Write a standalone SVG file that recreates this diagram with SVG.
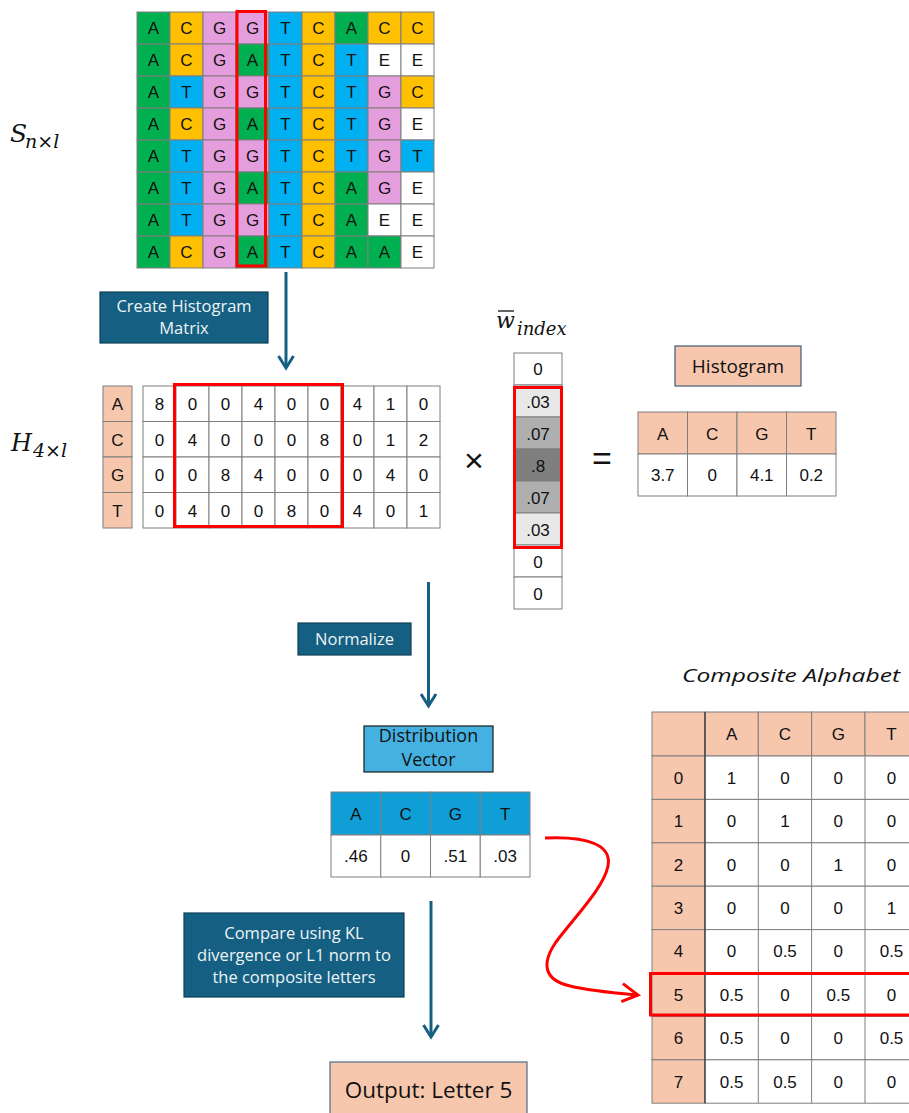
<svg xmlns="http://www.w3.org/2000/svg" width="909" height="1113" viewBox="0 0 909 1113">
<style>
.cell{stroke:#7f7f7f;stroke-width:1}
.a{fill:#00B050}.c{fill:#FFC000}.g{fill:#E59EDD}.t{fill:#00B0F0}.e{fill:#fff}.w{fill:#fff}
.pe{fill:#F6C6AD}.db{fill:#0F9ED5}
.g1{fill:#E8E8E8}.g2{fill:#AFAFAF}.g3{fill:#7F7F7F}
.tx{font-family:"Liberation Sans",Arial,sans-serif;font-size:17px;fill:#111;text-anchor:middle}
.bt{font-family:"Open Sans","Noto Sans",sans-serif;font-size:16.5px;fill:#EEF3F6;text-anchor:middle}
.lt{font-family:"Open Sans","Noto Sans",sans-serif;fill:#111;text-anchor:middle}
.math{font-family:"DejaVu Serif","Liberation Serif",serif;font-style:italic;fill:#111}
.red{fill:none;stroke:#FF0000;stroke-width:3}
.arr{fill:none;stroke:#156082;stroke-width:3}
.dark{fill:#156082;stroke:#0E3F58;stroke-width:1.2}
</style>
<defs>
<marker id="ah" markerWidth="18" markerHeight="18" refX="14" refY="9" orient="auto" markerUnits="userSpaceOnUse">
<path d="M2,1.5 L14,9 L2,16.5" fill="none" stroke="#156082" stroke-width="3"/>
</marker>
<marker id="rh" markerWidth="20" markerHeight="26" refX="17" refY="13" orient="auto" markerUnits="userSpaceOnUse">
<path d="M1,3 L17,13 L1,21" fill="none" stroke="#FF0000" stroke-width="3"/>
</marker>
</defs>
<rect width="909" height="1113" fill="#fff"/>

<g id="S-label">
<text class="math" x="10" y="142" font-size="25">S</text>
<text class="math" x="25" y="148" font-size="19">n×l</text>
</g>

<g id="sequence-grid">
<g>
<rect class="cell a" x="137" y="12" width="33" height="32"/><rect class="cell c" x="170" y="12" width="33" height="32"/><rect class="cell g" x="203" y="12" width="33" height="32"/><rect class="cell g" x="236" y="12" width="33" height="32"/><rect class="cell t" x="269" y="12" width="33" height="32"/><rect class="cell c" x="302" y="12" width="33" height="32"/><rect class="cell a" x="335" y="12" width="33" height="32"/><rect class="cell c" x="368" y="12" width="33" height="32"/><rect class="cell c" x="401" y="12" width="33" height="32"/>
<rect class="cell a" x="137" y="44" width="33" height="32"/><rect class="cell c" x="170" y="44" width="33" height="32"/><rect class="cell g" x="203" y="44" width="33" height="32"/><rect class="cell a" x="236" y="44" width="33" height="32"/><rect class="cell t" x="269" y="44" width="33" height="32"/><rect class="cell c" x="302" y="44" width="33" height="32"/><rect class="cell t" x="335" y="44" width="33" height="32"/><rect class="cell e" x="368" y="44" width="33" height="32"/><rect class="cell e" x="401" y="44" width="33" height="32"/>
<rect class="cell a" x="137" y="76" width="33" height="32"/><rect class="cell t" x="170" y="76" width="33" height="32"/><rect class="cell g" x="203" y="76" width="33" height="32"/><rect class="cell g" x="236" y="76" width="33" height="32"/><rect class="cell t" x="269" y="76" width="33" height="32"/><rect class="cell c" x="302" y="76" width="33" height="32"/><rect class="cell t" x="335" y="76" width="33" height="32"/><rect class="cell g" x="368" y="76" width="33" height="32"/><rect class="cell c" x="401" y="76" width="33" height="32"/>
<rect class="cell a" x="137" y="108" width="33" height="32"/><rect class="cell c" x="170" y="108" width="33" height="32"/><rect class="cell g" x="203" y="108" width="33" height="32"/><rect class="cell a" x="236" y="108" width="33" height="32"/><rect class="cell t" x="269" y="108" width="33" height="32"/><rect class="cell c" x="302" y="108" width="33" height="32"/><rect class="cell t" x="335" y="108" width="33" height="32"/><rect class="cell g" x="368" y="108" width="33" height="32"/><rect class="cell e" x="401" y="108" width="33" height="32"/>
<rect class="cell a" x="137" y="140" width="33" height="32"/><rect class="cell t" x="170" y="140" width="33" height="32"/><rect class="cell g" x="203" y="140" width="33" height="32"/><rect class="cell g" x="236" y="140" width="33" height="32"/><rect class="cell t" x="269" y="140" width="33" height="32"/><rect class="cell c" x="302" y="140" width="33" height="32"/><rect class="cell t" x="335" y="140" width="33" height="32"/><rect class="cell g" x="368" y="140" width="33" height="32"/><rect class="cell t" x="401" y="140" width="33" height="32"/>
<rect class="cell a" x="137" y="172" width="33" height="32"/><rect class="cell t" x="170" y="172" width="33" height="32"/><rect class="cell g" x="203" y="172" width="33" height="32"/><rect class="cell a" x="236" y="172" width="33" height="32"/><rect class="cell t" x="269" y="172" width="33" height="32"/><rect class="cell c" x="302" y="172" width="33" height="32"/><rect class="cell a" x="335" y="172" width="33" height="32"/><rect class="cell g" x="368" y="172" width="33" height="32"/><rect class="cell e" x="401" y="172" width="33" height="32"/>
<rect class="cell a" x="137" y="204" width="33" height="32"/><rect class="cell t" x="170" y="204" width="33" height="32"/><rect class="cell g" x="203" y="204" width="33" height="32"/><rect class="cell g" x="236" y="204" width="33" height="32"/><rect class="cell t" x="269" y="204" width="33" height="32"/><rect class="cell c" x="302" y="204" width="33" height="32"/><rect class="cell a" x="335" y="204" width="33" height="32"/><rect class="cell e" x="368" y="204" width="33" height="32"/><rect class="cell e" x="401" y="204" width="33" height="32"/>
<rect class="cell a" x="137" y="236" width="33" height="32"/><rect class="cell c" x="170" y="236" width="33" height="32"/><rect class="cell g" x="203" y="236" width="33" height="32"/><rect class="cell a" x="236" y="236" width="33" height="32"/><rect class="cell t" x="269" y="236" width="33" height="32"/><rect class="cell c" x="302" y="236" width="33" height="32"/><rect class="cell a" x="335" y="236" width="33" height="32"/><rect class="cell a" x="368" y="236" width="33" height="32"/><rect class="cell e" x="401" y="236" width="33" height="32"/>
</g>
<g class="tx">
<text x="153.5" y="34">A</text><text x="186.5" y="34">C</text><text x="219.5" y="34">G</text><text x="252.5" y="34">G</text><text x="285.5" y="34">T</text><text x="318.5" y="34">C</text><text x="351.5" y="34">A</text><text x="384.5" y="34">C</text><text x="417.5" y="34">C</text>
<text x="153.5" y="66">A</text><text x="186.5" y="66">C</text><text x="219.5" y="66">G</text><text x="252.5" y="66">A</text><text x="285.5" y="66">T</text><text x="318.5" y="66">C</text><text x="351.5" y="66">T</text><text x="384.5" y="66">E</text><text x="417.5" y="66">E</text>
<text x="153.5" y="98">A</text><text x="186.5" y="98">T</text><text x="219.5" y="98">G</text><text x="252.5" y="98">G</text><text x="285.5" y="98">T</text><text x="318.5" y="98">C</text><text x="351.5" y="98">T</text><text x="384.5" y="98">G</text><text x="417.5" y="98">C</text>
<text x="153.5" y="130">A</text><text x="186.5" y="130">C</text><text x="219.5" y="130">G</text><text x="252.5" y="130">A</text><text x="285.5" y="130">T</text><text x="318.5" y="130">C</text><text x="351.5" y="130">T</text><text x="384.5" y="130">G</text><text x="417.5" y="130">E</text>
<text x="153.5" y="162">A</text><text x="186.5" y="162">T</text><text x="219.5" y="162">G</text><text x="252.5" y="162">G</text><text x="285.5" y="162">T</text><text x="318.5" y="162">C</text><text x="351.5" y="162">T</text><text x="384.5" y="162">G</text><text x="417.5" y="162">T</text>
<text x="153.5" y="194">A</text><text x="186.5" y="194">T</text><text x="219.5" y="194">G</text><text x="252.5" y="194">A</text><text x="285.5" y="194">T</text><text x="318.5" y="194">C</text><text x="351.5" y="194">A</text><text x="384.5" y="194">G</text><text x="417.5" y="194">E</text>
<text x="153.5" y="226">A</text><text x="186.5" y="226">T</text><text x="219.5" y="226">G</text><text x="252.5" y="226">G</text><text x="285.5" y="226">T</text><text x="318.5" y="226">C</text><text x="351.5" y="226">A</text><text x="384.5" y="226">E</text><text x="417.5" y="226">E</text>
<text x="153.5" y="258">A</text><text x="186.5" y="258">C</text><text x="219.5" y="258">G</text><text x="252.5" y="258">A</text><text x="285.5" y="258">T</text><text x="318.5" y="258">C</text><text x="351.5" y="258">A</text><text x="384.5" y="258">A</text><text x="417.5" y="258">E</text>
</g>
<rect class="red" x="237" y="11.5" width="28.5" height="254.5"/>
</g>

<g id="create-histogram-box">
<rect class="dark" x="100" y="292" width="168" height="51"/>
<text class="bt" x="184" y="312">Create Histogram</text>
<text class="bt" x="184" y="334">Matrix</text>
</g>

<g id="H-label">
<text class="math" x="11" y="451" font-size="24">H</text>
<text class="math" x="33" y="457" font-size="19">4×l</text>
</g>

<g id="histogram-matrix">
<rect class="cell pe" x="103" y="386" width="29" height="35.5"/><rect class="cell pe" x="103" y="421.5" width="29" height="35.5"/><rect class="cell pe" x="103" y="457" width="29" height="35.5"/><rect class="cell pe" x="103" y="492.5" width="29" height="35.5"/>
<g class="tx"><text x="117.5" y="410">A</text><text x="117.5" y="445.5">C</text><text x="117.5" y="481">G</text><text x="117.5" y="516.5">T</text></g>
<g>
<rect class="cell w" x="143" y="386" width="33" height="35.5"/><rect class="cell w" x="176" y="386" width="33" height="35.5"/><rect class="cell w" x="209" y="386" width="33" height="35.5"/><rect class="cell w" x="242" y="386" width="33" height="35.5"/><rect class="cell w" x="275" y="386" width="33" height="35.5"/><rect class="cell w" x="308" y="386" width="33" height="35.5"/><rect class="cell w" x="341" y="386" width="33" height="35.5"/><rect class="cell w" x="374" y="386" width="33" height="35.5"/><rect class="cell w" x="407" y="386" width="33" height="35.5"/>
<rect class="cell w" x="143" y="421.5" width="33" height="35.5"/><rect class="cell w" x="176" y="421.5" width="33" height="35.5"/><rect class="cell w" x="209" y="421.5" width="33" height="35.5"/><rect class="cell w" x="242" y="421.5" width="33" height="35.5"/><rect class="cell w" x="275" y="421.5" width="33" height="35.5"/><rect class="cell w" x="308" y="421.5" width="33" height="35.5"/><rect class="cell w" x="341" y="421.5" width="33" height="35.5"/><rect class="cell w" x="374" y="421.5" width="33" height="35.5"/><rect class="cell w" x="407" y="421.5" width="33" height="35.5"/>
<rect class="cell w" x="143" y="457" width="33" height="35.5"/><rect class="cell w" x="176" y="457" width="33" height="35.5"/><rect class="cell w" x="209" y="457" width="33" height="35.5"/><rect class="cell w" x="242" y="457" width="33" height="35.5"/><rect class="cell w" x="275" y="457" width="33" height="35.5"/><rect class="cell w" x="308" y="457" width="33" height="35.5"/><rect class="cell w" x="341" y="457" width="33" height="35.5"/><rect class="cell w" x="374" y="457" width="33" height="35.5"/><rect class="cell w" x="407" y="457" width="33" height="35.5"/>
<rect class="cell w" x="143" y="492.5" width="33" height="35.5"/><rect class="cell w" x="176" y="492.5" width="33" height="35.5"/><rect class="cell w" x="209" y="492.5" width="33" height="35.5"/><rect class="cell w" x="242" y="492.5" width="33" height="35.5"/><rect class="cell w" x="275" y="492.5" width="33" height="35.5"/><rect class="cell w" x="308" y="492.5" width="33" height="35.5"/><rect class="cell w" x="341" y="492.5" width="33" height="35.5"/><rect class="cell w" x="374" y="492.5" width="33" height="35.5"/><rect class="cell w" x="407" y="492.5" width="33" height="35.5"/>
</g>
<g class="tx">
<text x="159.5" y="410">8</text><text x="192.5" y="410">0</text><text x="225.5" y="410">0</text><text x="258.5" y="410">4</text><text x="291.5" y="410">0</text><text x="324.5" y="410">0</text><text x="357.5" y="410">4</text><text x="390.5" y="410">1</text><text x="423.5" y="410">0</text>
<text x="159.5" y="445.5">0</text><text x="192.5" y="445.5">4</text><text x="225.5" y="445.5">0</text><text x="258.5" y="445.5">0</text><text x="291.5" y="445.5">0</text><text x="324.5" y="445.5">8</text><text x="357.5" y="445.5">0</text><text x="390.5" y="445.5">1</text><text x="423.5" y="445.5">2</text>
<text x="159.5" y="481">0</text><text x="192.5" y="481">0</text><text x="225.5" y="481">8</text><text x="258.5" y="481">4</text><text x="291.5" y="481">0</text><text x="324.5" y="481">0</text><text x="357.5" y="481">0</text><text x="390.5" y="481">4</text><text x="423.5" y="481">0</text>
<text x="159.5" y="516.5">0</text><text x="192.5" y="516.5">4</text><text x="225.5" y="516.5">0</text><text x="258.5" y="516.5">0</text><text x="291.5" y="516.5">8</text><text x="324.5" y="516.5">0</text><text x="357.5" y="516.5">4</text><text x="390.5" y="516.5">0</text><text x="423.5" y="516.5">1</text>
</g>
<rect class="red" x="174.5" y="384.5" width="168" height="142"/>
</g>

<g id="times-sign"><text x="474" y="472" font-family="Liberation Sans,Arial,sans-serif" font-size="34" fill="#111" text-anchor="middle">×</text></g>

<g id="w-label">
<text class="math" x="496" y="328" font-size="22">w</text>
<line x1="498" y1="311" x2="514" y2="311" stroke="#111" stroke-width="1.3"/>
<text class="math" x="517" y="335" font-size="18">index</text>
</g>

<g id="weight-vector">
<rect class="cell w" x="514" y="353" width="48" height="32"/>
<rect class="cell g1" x="514" y="385" width="48" height="32"/>
<rect class="cell g2" x="514" y="417" width="48" height="32"/>
<rect class="cell g3" x="514" y="449" width="48" height="32"/>
<rect class="cell g2" x="514" y="481" width="48" height="32"/>
<rect class="cell g1" x="514" y="513" width="48" height="32"/>
<rect class="cell w" x="514" y="545" width="48" height="32"/>
<rect class="cell w" x="514" y="577" width="48" height="32"/>
<g class="tx">
<text x="538" y="375">0</text><text x="538" y="408">.03</text><text x="538" y="440">.07</text><text x="538" y="472">.8</text><text x="538" y="504">.07</text><text x="538" y="536">.03</text><text x="538" y="568">0</text><text x="538" y="600">0</text>
</g>
<rect class="red" x="514.5" y="387.5" width="47" height="160"/>
</g>

<g id="equals-sign"><text x="602" y="470" font-family="Liberation Sans,Arial,sans-serif" font-size="34" fill="#111" text-anchor="middle">=</text></g>

<g id="histogram-label">
<rect x="675" y="346" width="126" height="40" fill="#F6C6AD" stroke="#3E5C78" stroke-width="1.2"/>
<text class="lt" x="738" y="373" font-size="19">Histogram</text>
</g>

<g id="histogram-table">
<rect class="cell pe" x="638" y="412" width="49.5" height="42"/><rect class="cell pe" x="687.5" y="412" width="49.5" height="42"/><rect class="cell pe" x="737" y="412" width="49.5" height="42"/><rect class="cell pe" x="786.5" y="412" width="49.5" height="42"/>
<rect class="cell w" x="638" y="454" width="49.5" height="42"/><rect class="cell w" x="687.5" y="454" width="49.5" height="42"/><rect class="cell w" x="737" y="454" width="49.5" height="42"/><rect class="cell w" x="786.5" y="454" width="49.5" height="42"/>
<g class="tx">
<text x="662.75" y="440">A</text><text x="712.25" y="440">C</text><text x="761.75" y="440">G</text><text x="811.25" y="440">T</text>
<text x="662.75" y="481">3.7</text><text x="712.25" y="481">0</text><text x="761.75" y="481">4.1</text><text x="811.25" y="481">0.2</text>
</g>
</g>

<g id="normalize-box">
<rect class="dark" x="298" y="623" width="113" height="32"/>
<text class="bt" x="354.5" y="645" font-size="17">Normalize</text>
</g>

<g id="distribution-label">
<rect x="364" y="726" width="129" height="46" fill="#45B1E1" stroke="#1a1a1a" stroke-width="1.2"/>
<text class="lt" x="428.5" y="742" font-size="18">Distribution</text>
<text class="lt" x="428.5" y="766" font-size="18">Vector</text>
</g>

<g id="distribution-table">
<rect class="cell db" x="331" y="792" width="49.75" height="43"/><rect class="cell db" x="380.75" y="792" width="49.75" height="43"/><rect class="cell db" x="430.5" y="792" width="49.75" height="43"/><rect class="cell db" x="480.25" y="792" width="49.75" height="43"/>
<rect class="cell w" x="331" y="835" width="49.75" height="42"/><rect class="cell w" x="380.75" y="835" width="49.75" height="42"/><rect class="cell w" x="430.5" y="835" width="49.75" height="42"/><rect class="cell w" x="480.25" y="835" width="49.75" height="42"/>
<g class="tx">
<text x="355.9" y="820">A</text><text x="405.6" y="820">C</text><text x="455.4" y="820">G</text><text x="505.1" y="820">T</text>
<text x="355.9" y="862">.46</text><text x="405.6" y="862">0</text><text x="455.4" y="862">.51</text><text x="505.1" y="862">.03</text>
</g>
</g>

<g id="compare-box">
<rect class="dark" x="184" y="913" width="220" height="84"/>
<text class="bt" x="294" y="939">Compare using KL</text>
<text class="bt" x="294" y="961">divergence or L1 norm to</text>
<text class="bt" x="294" y="983">the composite letters</text>
</g>

<g id="output-box">
<rect x="330" y="1062" width="197" height="60" fill="#F6C6AD" stroke="#4D6E8A" stroke-width="1.2"/>
<text class="lt" x="428.5" y="1098" font-size="22.5">Output: Letter 5</text>
</g>

<g id="composite-title">
<text x="682" y="682" font-family="Open Sans,Noto Sans,sans-serif" font-style="italic" font-size="19" fill="#111" textLength="218" lengthAdjust="spacingAndGlyphs">Composite Alphabet</text>
</g>

<g id="composite-table">
<g>
<rect class="cell pe" x="652" y="712" width="53" height="44"/><rect class="cell pe" x="705" y="712" width="53.3" height="44"/><rect class="cell pe" x="758.3" y="712" width="53.3" height="44"/><rect class="cell pe" x="811.6" y="712" width="53.4" height="44"/><rect class="cell pe" x="865" y="712" width="53" height="44"/>
<rect class="cell pe" x="652" y="756" width="53" height="43.4"/><rect class="cell pe" x="652" y="799.4" width="53" height="43.4"/><rect class="cell pe" x="652" y="842.8" width="53" height="43.4"/><rect class="cell pe" x="652" y="886.2" width="53" height="43.4"/><rect class="cell pe" x="652" y="929.6" width="53" height="43.4"/><rect class="cell pe" x="652" y="973" width="53" height="43.4"/><rect class="cell pe" x="652" y="1016.4" width="53" height="43.4"/><rect class="cell pe" x="652" y="1059.8" width="53" height="43.4"/>
<rect class="cell w" x="705" y="756" width="213" height="43.4"/><rect class="cell w" x="705" y="799.4" width="213" height="43.4"/><rect class="cell w" x="705" y="842.8" width="213" height="43.4"/><rect class="cell w" x="705" y="886.2" width="213" height="43.4"/><rect class="cell w" x="705" y="929.6" width="213" height="43.4"/><rect class="cell w" x="705" y="973" width="213" height="43.4"/><rect class="cell w" x="705" y="1016.4" width="213" height="43.4"/><rect class="cell w" x="705" y="1059.8" width="213" height="43.4"/>
<line x1="758.3" y1="756" x2="758.3" y2="1103.2" stroke="#7f7f7f"/><line x1="811.6" y1="756" x2="811.6" y2="1103.2" stroke="#7f7f7f"/><line x1="865" y1="756" x2="865" y2="1103.2" stroke="#7f7f7f"/>
<line x1="705" y1="712" x2="705" y2="1103.2" stroke="#333" stroke-width="1.2"/>
</g>
<g class="tx">
<text x="731.6" y="740">A</text><text x="785" y="740">C</text><text x="838.3" y="740">G</text><text x="891.5" y="740">T</text>
<text x="678.5" y="784">0</text><text x="731.6" y="784">1</text><text x="785" y="784">0</text><text x="838.3" y="784">0</text><text x="891.5" y="784">0</text>
<text x="678.5" y="827">1</text><text x="731.6" y="827">0</text><text x="785" y="827">1</text><text x="838.3" y="827">0</text><text x="891.5" y="827">0</text>
<text x="678.5" y="870.5">2</text><text x="731.6" y="870.5">0</text><text x="785" y="870.5">0</text><text x="838.3" y="870.5">1</text><text x="891.5" y="870.5">0</text>
<text x="678.5" y="914">3</text><text x="731.6" y="914">0</text><text x="785" y="914">0</text><text x="838.3" y="914">0</text><text x="891.5" y="914">1</text>
<text x="678.5" y="957">4</text><text x="731.6" y="957">0</text><text x="785" y="957">0.5</text><text x="838.3" y="957">0</text><text x="891.5" y="957">0.5</text>
<text x="678.5" y="1000.5">5</text><text x="731.6" y="1000.5">0.5</text><text x="785" y="1000.5">0</text><text x="838.3" y="1000.5">0.5</text><text x="891.5" y="1000.5">0</text>
<text x="678.5" y="1044">6</text><text x="731.6" y="1044">0.5</text><text x="785" y="1044">0</text><text x="838.3" y="1044">0</text><text x="891.5" y="1044">0.5</text>
<text x="678.5" y="1087.5">7</text><text x="731.6" y="1087.5">0.5</text><text x="785" y="1087.5">0.5</text><text x="838.3" y="1087.5">0</text><text x="891.5" y="1087.5">0</text>
</g>
<rect class="red" x="650.5" y="973.5" width="270" height="41.5"/>
</g>

<g id="connectors">
<line class="arr" x1="286" y1="272" x2="286" y2="368" marker-end="url(#ah)"/>
<line class="arr" x1="428.5" y1="582" x2="428.5" y2="706" marker-end="url(#ah)"/>
<line class="arr" x1="431" y1="901" x2="431" y2="1037" marker-end="url(#ah)"/>
<path d="M545,838 C590,836 612,846 608,866 C604,888 572,920 556,942 C541,964 544,980 570,986 C590,991 615,993 638,995" fill="none" stroke="#FF0000" stroke-width="3" marker-end="url(#rh)"/>
</g>
</svg>
